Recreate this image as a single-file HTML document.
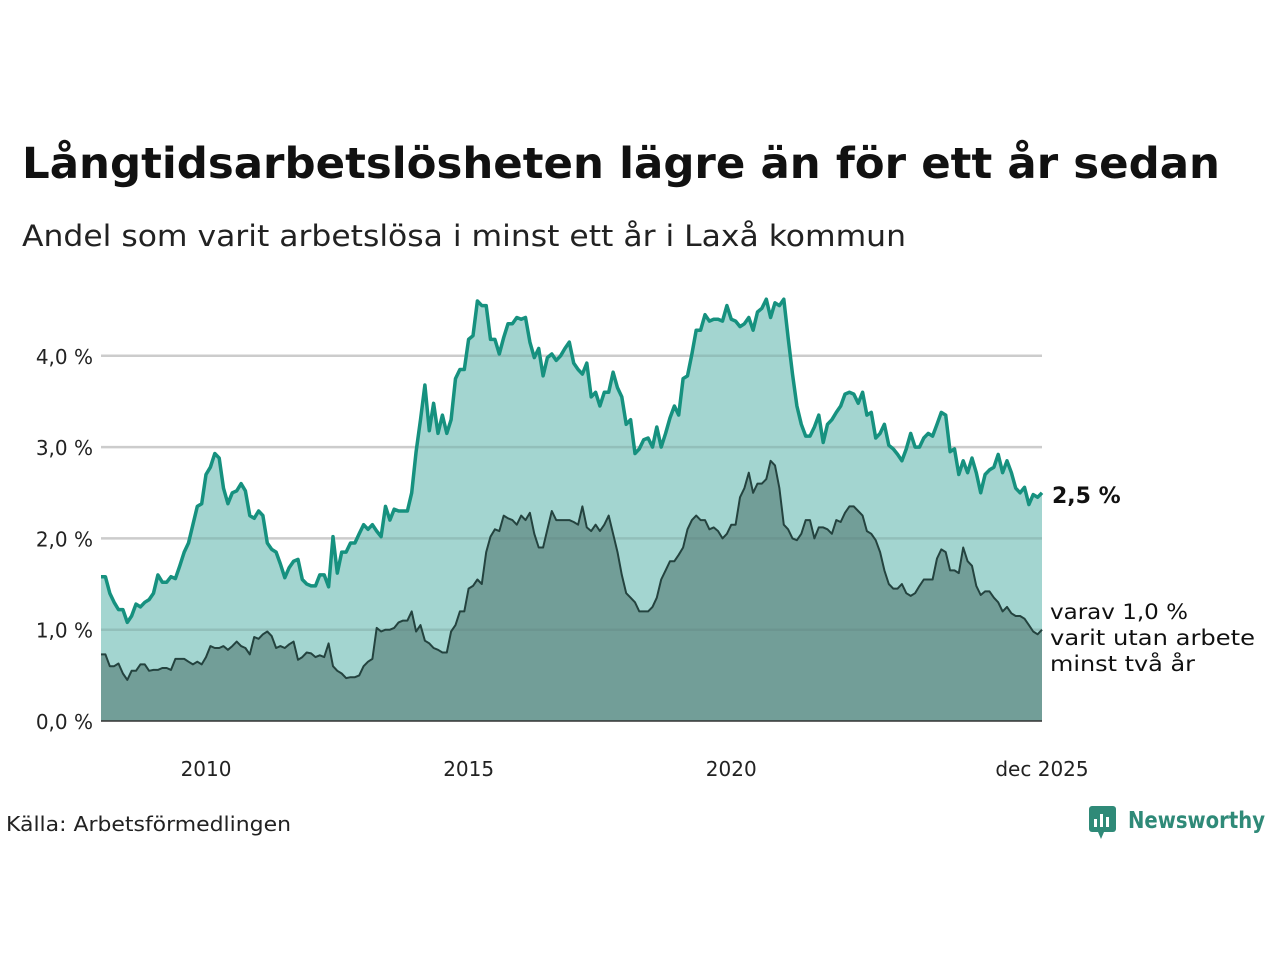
<!DOCTYPE html>
<html><head><meta charset="utf-8"><style>
html,body{margin:0;padding:0;background:#fff;}
svg{display:block;font-family:"DejaVu Sans","Liberation Sans",sans-serif;}
</style></head><body>
<svg id="chart" width="1280" height="960" viewBox="0 0 1280 960" xmlns="http://www.w3.org/2000/svg">
<text x="22" y="178" font-size="43" font-weight="bold" fill="#111" textLength="1198" lengthAdjust="spacingAndGlyphs">Långtidsarbetslösheten lägre än för ett år sedan</text>
<text x="22" y="246" font-size="29" fill="#222" textLength="884" lengthAdjust="spacingAndGlyphs">Andel som varit arbetslösa i minst ett år i Laxå kommun</text>
<g id="grid"></g>
<g id="areas"></g>
<g id="yaxis"></g>
<g id="xaxis"></g>
<text x="1052" y="503" font-size="22" font-weight="bold" fill="#111">2,5 %</text>
<g font-size="21" fill="#111">
<text x="1050" y="619" textLength="138" lengthAdjust="spacingAndGlyphs">varav 1,0 %</text>
<text x="1050" y="645" textLength="205" lengthAdjust="spacingAndGlyphs">varit utan arbete</text>
<text x="1050" y="671" textLength="145" lengthAdjust="spacingAndGlyphs">minst två år</text>
</g>
<text x="6" y="831" font-size="20" fill="#222" textLength="285" lengthAdjust="spacingAndGlyphs">Källa: Arbetsförmedlingen</text>
<g>
<rect x="1089" y="806" width="27" height="26" rx="3" fill="#2f8a78"/>
<polygon points="1098,832 1104,832 1101,839" fill="#2f8a78"/>
<rect x="1094" y="819" width="3" height="8" fill="#fff"/>
<rect x="1100" y="814" width="3" height="13" fill="#fff"/>
<rect x="1106" y="817" width="3" height="10" fill="#fff"/>
<text x="1128" y="828" font-size="23" font-weight="bold" fill="#2f8a78" textLength="137" lengthAdjust="spacingAndGlyphs">Newsworthy</text>
</g>
</svg>
<script>
const total = [
1.58,1.58,1.4,1.3,1.22,1.22,1.08,1.15,1.28,1.25,1.3,1.33,
1.4,1.6,1.52,1.52,1.58,1.56,1.7,1.85,1.95,2.15,2.35,2.38,
2.7,2.78,2.93,2.88,2.55,2.38,2.5,2.52,2.6,2.52,2.25,2.22,
2.3,2.25,1.95,1.88,1.85,1.72,1.57,1.68,1.75,1.77,1.55,1.5,
1.48,1.48,1.6,1.6,1.47,2.02,1.62,1.85,1.85,1.95,1.95,2.05,
2.15,2.1,2.15,2.08,2.02,2.35,2.2,2.32,2.3,2.3,2.3,2.5,
2.95,3.3,3.68,3.18,3.48,3.15,3.35,3.15,3.3,3.75,3.85,3.85,
4.18,4.22,4.6,4.55,4.55,4.18,4.18,4.02,4.2,4.35,4.35,4.42,
4.4,4.42,4.15,3.98,4.08,3.78,3.98,4.02,3.95,4.0,4.08,4.15,
3.92,3.85,3.8,3.92,3.55,3.6,3.45,3.6,3.6,3.82,3.65,3.55,
3.25,3.3,2.93,2.98,3.08,3.1,3.0,3.22,3.0,3.15,3.32,3.45,
3.35,3.75,3.78,4.02,4.28,4.28,4.45,4.38,4.4,4.4,4.38,4.55,
4.4,4.38,4.32,4.35,4.42,4.28,4.48,4.52,4.62,4.42,4.58,4.55,
4.62,4.2,3.8,3.45,3.25,3.12,3.12,3.22,3.35,3.05,3.25,3.3,
3.38,3.45,3.58,3.6,3.58,3.48,3.6,3.35,3.38,3.1,3.15,3.25,
3.02,2.98,2.92,2.85,2.98,3.15,3.0,3.0,3.1,3.15,3.12,3.25,
3.38,3.35,2.95,2.98,2.7,2.85,2.72,2.88,2.72,2.5,2.7,2.75,
2.78,2.92,2.72,2.85,2.72,2.55,2.5,2.56,2.37,2.48,2.45,2.5];
const longTerm = [
0.73,0.73,0.6,0.6,0.63,0.52,0.45,0.55,0.55,0.62,0.62,0.55,
0.56,0.56,0.58,0.58,0.56,0.68,0.68,0.68,0.65,0.62,0.65,0.62,
0.7,0.82,0.8,0.8,0.82,0.78,0.82,0.87,0.82,0.8,0.73,0.92,
0.9,0.95,0.98,0.93,0.8,0.82,0.8,0.84,0.87,0.67,0.7,0.75,
0.74,0.7,0.72,0.7,0.85,0.6,0.55,0.52,0.47,0.48,0.48,0.5,
0.6,0.65,0.68,1.02,0.98,1.0,1.0,1.02,1.08,1.1,1.1,1.2,
0.98,1.05,0.88,0.85,0.8,0.78,0.75,0.75,0.98,1.05,1.2,1.2,
1.45,1.48,1.55,1.5,1.85,2.02,2.1,2.08,2.25,2.22,2.2,2.15,
2.25,2.2,2.28,2.05,1.9,1.9,2.1,2.3,2.2,2.2,2.2,2.2,
2.18,2.15,2.35,2.12,2.08,2.15,2.08,2.15,2.25,2.05,1.85,1.6,
1.4,1.35,1.3,1.2,1.2,1.2,1.25,1.35,1.55,1.65,1.75,1.75,
1.82,1.9,2.1,2.2,2.25,2.2,2.2,2.1,2.12,2.08,2.0,2.05,
2.15,2.15,2.45,2.55,2.72,2.5,2.6,2.6,2.65,2.85,2.8,2.55,
2.15,2.1,2.0,1.98,2.05,2.2,2.2,2.0,2.12,2.12,2.1,2.05,
2.2,2.18,2.28,2.35,2.35,2.3,2.25,2.08,2.05,1.98,1.85,1.65,
1.5,1.45,1.45,1.5,1.4,1.37,1.4,1.48,1.55,1.55,1.55,1.78,
1.88,1.85,1.65,1.65,1.62,1.9,1.75,1.7,1.48,1.38,1.42,1.42,
1.35,1.3,1.2,1.25,1.18,1.15,1.15,1.12,1.05,0.98,0.95,1.0];
const yTicks = [0,1,2,3,4];
const yTickLabels = ["0,0 %","1,0 %","2,0 %","3,0 %","4,0 %"];
const xTickMonths = [24,84,144,215];
const xTickLabels = ["2010","2015","2020","dec 2025"];

const NS="http://www.w3.org/2000/svg";
const X0=101,X1=1042,Y0=721,PX=91.3;
const n=total.length;
function xs(i){return X0+(X1-X0)*i/(n-1);}
function ys(v){return Y0-v*PX;}
function mk(tag,attrs,parent){const e=document.createElementNS(NS,tag);for(const k in attrs)e.setAttribute(k,attrs[k]);parent.appendChild(e);return e;}
const grid=document.getElementById('grid'),areas=document.getElementById('areas'),ya=document.getElementById('yaxis'),xa=document.getElementById('xaxis');
yTicks.forEach((t,i)=>{
  if(t>0){const l=mk('line',{x1:X0,x2:X1,y1:ys(t),y2:ys(t),stroke:'#e3e3e3','stroke-width':2.5},grid);
  
  }
  const tx=mk('text',{x:93,y:ys(t)+8,'font-size':20,'text-anchor':'end',fill:'#222'},ya);
  tx.textContent=yTickLabels[i];
  
  
});
xTickMonths.forEach((m,i)=>{
  const tx=mk('text',{x:xs(m),y:776,'font-size':20,'text-anchor':'middle',fill:'#222'},xa);
  tx.textContent=xTickLabels[i];
  
  
});
function linePts(arr){return arr.map((v,i)=>xs(i).toFixed(1)+','+ys(v).toFixed(1)).join(' ');}
function areaPts(arr){return xs(0)+','+Y0+' '+linePts(arr)+' '+xs(n-1)+','+Y0;}
const a1=mk('polygon',{points:areaPts(total),fill:'#a3d5d0'},areas);


yTicks.forEach(t=>{if(t>0){const l=mk('line',{x1:X0,x2:X1,y1:ys(t),y2:ys(t),stroke:'rgba(0,0,0,0.05)','stroke-width':2.5},areas);

}});
const a2=mk('polygon',{points:areaPts(longTerm),fill:'#729e98'},areas);


yTicks.forEach(t=>{if(t>0){const l=mk('line',{x1:X0,x2:X1,y1:ys(t),y2:ys(t),stroke:'rgba(0,0,0,0.05)','stroke-width':2.5},areas);

}});
const l2=mk('polyline',{points:linePts(longTerm),fill:'none',stroke:'#24433f','stroke-width':2,'stroke-linejoin':'round'},areas);


const l1=mk('polyline',{points:linePts(total),fill:'none',stroke:'#16917f','stroke-width':3.5,'stroke-linejoin':'round'},areas);


const base=mk('line',{x1:X0,x2:X1,y1:Y0,y2:Y0,stroke:'#333','stroke-width':1.5},areas);


</script>
</body></html>
